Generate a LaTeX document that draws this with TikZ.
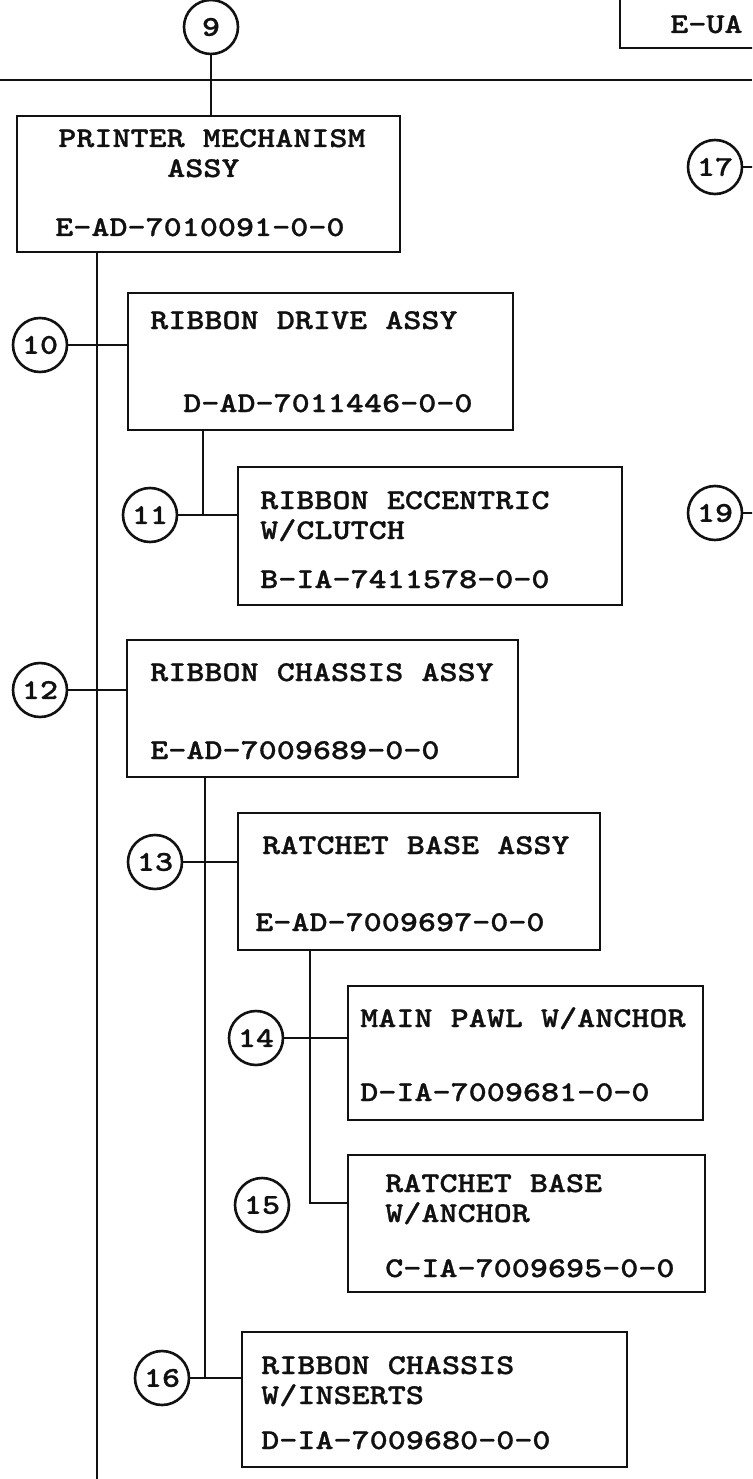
\documentclass[tikz,border=0pt]{standalone}
\usepackage{fontspec}
\usetikzlibrary{fit}
\newfontfamily\typew{lmmonolt10-bold.otf}[FakeStretch=1.2,FakeBold=1]
\definecolor{ink}{HTML}{111111}
\tikzset{box/.style={draw=ink,line width=2.8pt,inner sep=0pt},num/.style={circle,draw=ink,line width=2.6pt,minimum size=54pt,inner sep=0pt,font=\typew\fontsize{28.7pt}{30pt}\selectfont,text=ink},txt/.style={anchor=base west,inner sep=0pt,font=\typew\fontsize{28.7pt}{30pt}\selectfont,text=ink},wire/.style={draw=ink,line width=2.8pt}}
\begin{document}
\begin{tikzpicture}[x=1pt,y=-1pt]
\useasboundingbox (0,0) rectangle (752,1479);
\clip (0,0) rectangle (752,1479);
% part boxes
\node[box,fit={(620,-60)(900,48)}] (bua) {};
\node[box,fit={(17,116)(400,252)}] (b9) {};
\node[box,fit={(128,293)(513,430)}] (b10) {};
\node[box,fit={(238,467)(622,605)}] (b11) {};
\node[box,fit={(127,640)(518,777)}] (b12) {};
\node[box,fit={(238,813)(600,950)}] (b13) {};
\node[box,fit={(348,986)(703,1120)}] (b14) {};
\node[box,fit={(348,1155)(705,1292)}] (b15) {};
\node[box,fit={(242,1332)(627,1467)}] (b16) {};
% box texts
\node[txt] (tua) at (670,33) {E-UA};
\node[txt] (t9a) at (58,147) {PRINTER MECHANISM};
\node[txt] (t9b) at (167,177) {ASSY};
\node[txt] (t9c) at (55,236) {E-AD-7010091-0-0};
\node[txt] (t10a) at (150,329) {RIBBON DRIVE ASSY};
\node[txt] (t10b) at (183,412) {D-AD-7011446-0-0};
\node[txt] (t11a) at (260,509) {RIBBON ECCENTRIC};
\node[txt] (t11b) at (260,539) {W/CLUTCH};
\node[txt] (t11c) at (260,588) {B-IA-7411578-0-0};
\node[txt] (t12a) at (150,681) {RIBBON CHASSIS ASSY};
\node[txt] (t12b) at (150,759) {E-AD-7009689-0-0};
\node[txt] (t13a) at (262,854) {RATCHET BASE ASSY};
\node[txt] (t13b) at (255,931) {E-AD-7009697-0-0};
\node[txt] (t14a) at (360,1027) {MAIN PAWL W/ANCHOR};
\node[txt] (t14b) at (360,1101) {D-IA-7009681-0-0};
\node[txt] (t15a) at (385,1192) {RATCHET BASE};
\node[txt] (t15b) at (385,1222) {W/ANCHOR};
\node[txt] (t15c) at (385,1277) {C-IA-7009695-0-0};
\node[txt] (t16a) at (261,1374) {RIBBON CHASSIS};
\node[txt] (t16b) at (261,1404) {W/INSERTS};
\node[txt] (t16c) at (261,1449) {D-IA-7009680-0-0};
% item numbers
\node[num] (c9) at (211,27) {9};
\node[num] (c10) at (40,345) {10};
\node[num] (c11) at (150,515) {11};
\node[num] (c12) at (40,690) {12};
\node[num] (c13) at (155,862) {13};
\node[num] (c14) at (256,1038) {14};
\node[num] (c15) at (262,1205) {15};
\node[num] (c16) at (162,1378) {16};
\node[num] (c17) at (715,167) {17};
\node[num] (c19) at (715,513) {19};
% tree lines
\coordinate (trunk) at (97,1479);
\coordinate (j11) at (203,515);
\coordinate (j16) at (205,1378);
\coordinate (j15) at (310,1203);
\coordinate (e17) at (760,167);
\coordinate (e19) at (760,513);
\draw[wire] (0,80)--(752,80);
\draw[wire] (c9)--(c9 |- b9.north);
\draw[wire] (trunk |- b9.south)--(trunk);
\draw[wire] (c10)--(c10 -| b10.west);
\draw[wire] (j11 |- b10.south)--(j11);\draw[wire] (c11)--(c11 -| b11.west);
\draw[wire] (c12)--(c12 -| b12.west);
\draw[wire] (j16 |- b12.south)--(j16);\draw[wire] (c13)--(c13 -| b13.west);
\draw[wire] (j15 |- b13.south)--(j15)--(j15 -| b15.west);
\draw[wire] (c14)--(c14 -| b14.west);
\draw[wire] (c16)--(c16 -| b16.west);
\draw[wire] (c17)--(e17);\draw[wire] (c19)--(e19);
\end{tikzpicture}
\end{document}
